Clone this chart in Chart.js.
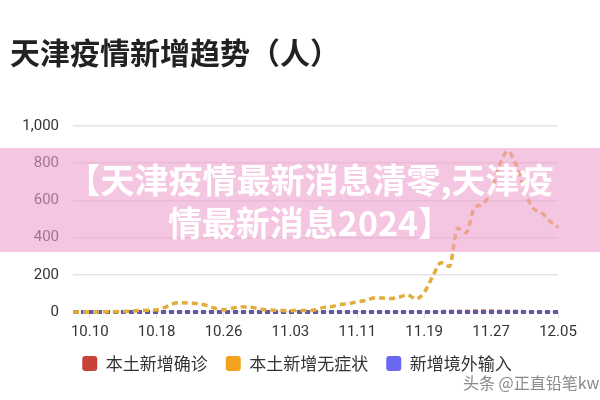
<!DOCTYPE html>
<html><head><meta charset="utf-8">
<script src="https://cdn.jsdelivr.net/npm/chart.js@4"></script>
<style>
html,body{margin:0;padding:0;background:#fff;overflow:hidden;}
#wrap{position:relative;width:600px;height:400px;overflow:hidden;}
canvas{position:absolute;left:0;top:0;}
#band{position:absolute;left:0;top:148px;width:600px;height:104px;background:rgba(238,160,205,0.6);}
#band div{position:absolute;left:20px;width:580px;text-align:center;color:#fff;font-weight:bold;font-size:34px;line-height:40px;font-family:"Noto Sans CJK SC";white-space:nowrap;}
#mark{position:absolute;left:463px;top:371px;font-size:16px;line-height:22px;font-family:"Noto Sans CJK SC";color:#8a8a8a;white-space:nowrap;}
</style></head>
<body><div id="wrap"><canvas id="c" width="600" height="400"></canvas>
<div id="band"><div style="top:11px">【天津疫情最新消息清零,天津疫</div><div style="top:54px">情最新消息2024】</div></div>
<div id="mark">头条 @正直铅笔kw</div></div>
<script>
const dates = ['10.08','10.09','10.10','10.11','10.12','10.13','10.14','10.15','10.16','10.17','10.18','10.19','10.20','10.21','10.22','10.23','10.24','10.25','10.26','10.27','10.28','10.29','10.30','10.31',
'11.01','11.02','11.03','11.04','11.05','11.06','11.07','11.08','11.09','11.10','11.11','11.12','11.13','11.14','11.15','11.16','11.17','11.18','11.19','11.20','11.21','11.22','11.23','11.24','11.25','11.26','11.27','11.28','11.29','11.30',
'12.01','12.02','12.03','12.04','12.05'];
const tickLabels = ['10.10','10.18','10.26','11.03','11.11','11.19','11.27','12.05'];
const seriesNames = ['本土新增确诊','本土新增无症状','新增境外输入'];
const localConfirmed = [0,0,0,0,0,0,0,1,1,2,2,1,1,0,0,0,0,0,0,1,1,0,0,0,0,0,0,0,0,0,0,1,1,1,1,1,1,1,2,2,2,2,3,3,3,4,4,4,5,5,5,4,4,4,3,3,3,3,3];
const localAsymptomatic = [0,0,0,0,2,2,3,5,8,10,12,25,45,50,48,45,35,20,12,20,28,27,20,12,10,8,7,8,8,12,25,30,40,45,55,62,75,75,72,80,92,70,105,190,265,245,450,425,560,580,650,790,865,790,650,560,535,490,455];
const imported = [0,0,0,0,0,0,0,0,0,0,0,0,0,0,0,0,0,0,0,0,0,0,0,0,0,0,0,0,0,0,0,0,0,0,0,0,0,0,0,0,0,0,0,0,0,0,0,0,0,0,0,0,0,0,0,0,0,0,0];
const yTicks = [0,200,400,600,800,1000];
const lineColors = ['#c9423a','#e2ad3a','#6458a8'];
const legendColors = ['#c9423a','#f4a21e','#6a67f2'];

const legendShift = {
  id: 'legendShift',
  afterLayout(chart) {
    const lg = chart.legend;
    lg.top -= 9; lg.bottom -= 9;
    lg.left += 13; lg.right += 13;
  }
};

new Chart(document.getElementById('c'), {
  type: 'line',
  data: {
    labels: dates,
    datasets: [
      {label: seriesNames[0], data: localConfirmed, borderColor: lineColors[0], borderWidth: 3, borderDash: [5,3], pointRadius: 0, cubicInterpolationMode: 'monotone', order: 3, clip: false},
      {label: seriesNames[1], data: localAsymptomatic, borderColor: lineColors[1], borderWidth: 3.5, borderDash: [6,4], pointRadius: 0, cubicInterpolationMode: 'monotone', order: 1, clip: false},
      {label: seriesNames[2], data: imported, borderColor: lineColors[2], borderWidth: 4, borderDash: [5,3], pointRadius: 0, cubicInterpolationMode: 'monotone', order: 2, clip: false}
    ]
  },
  plugins: [legendShift],
  options: {
    responsive: false,
    animation: false,
    layout: {padding: {left: 10, right: 42, top: 0, bottom: 9}},
    plugins: {
      tooltip: {enabled: false},
      title: {
        display: true, text: '天津疫情新增趋势（人）', align: 'start', color: '#222',
        font: {family: '"Noto Sans CJK SC"', size: 30, weight: 'bold', lineHeight: 1.2},
        padding: {top: 35, bottom: 55}
      },
      legend: {
        position: 'bottom',
        labels: {
          color: '#333', boxWidth: 15, boxHeight: 15, padding: 18, useBorderRadius: true, borderRadius: 3,
          font: {family: '"Noto Sans CJK SC"', size: 17},
          generateLabels: (chart) => seriesNames.map((n, i) => ({text: n, fillStyle: legendColors[i], strokeStyle: legendColors[i], lineWidth: 0, borderRadius: 3, datasetIndex: i, fontColor: '#333'}))
        }
      }
    },
    scales: {
      x: {
        border: {display: false},
        grid: {drawOnChartArea: false, drawTicks: true, tickLength: 6,
          color: (ctx) => (ctx.tick && tickLabels.includes(dates[ctx.index])) ? '#dddddd' : 'rgba(0,0,0,0)'},
        ticks: {autoSkip: false, maxRotation: 0, minRotation: 0, padding: 5, color: '#333',
          font: {family: 'Roboto', size: 15},
          callback: (v, i) => tickLabels.includes(dates[i]) ? dates[i] : ''}
      },
      y: {
        min: 0, max: 1000,
        afterFit: (s) => { s.width = 63; },
        afterBuildTicks: (s) => { s.ticks = yTicks.map(v => ({value: v})); },
        border: {display: false},
        grid: {color: '#e4e4e4', lineWidth: 1.5, drawTicks: false},
        ticks: {padding: 14, color: '#333', font: {family: 'Roboto', size: 15}}
      }
    }
  }
});
</script>
</body></html>
